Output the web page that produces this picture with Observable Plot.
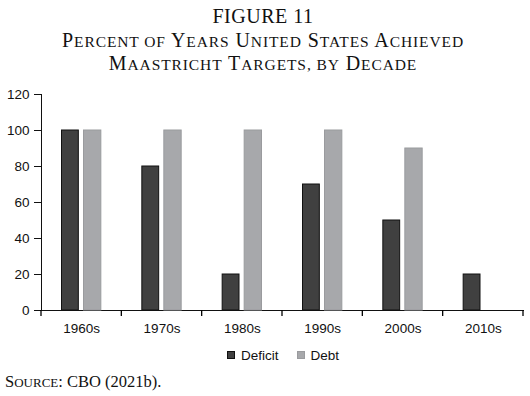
<!DOCTYPE html>
<html>
<head>
<meta charset="utf-8">
<script src="https://cdn.jsdelivr.net/npm/d3@7"></script>
<script src="https://cdn.jsdelivr.net/npm/@observablehq/plot@0.6"></script>
<style>
  html, body { margin: 0; padding: 0; background: #fff; }
  #wrap { position: relative; width: 530px; height: 396px; overflow: hidden; }
  .title { position: absolute; left: 0; width: 526px; text-align: center;
           font-family: "Liberation Serif", "Times New Roman", serif; font-size: 20px;
           color: #111; white-space: nowrap; line-height: 1; }
  .sc { letter-spacing: 0.9px; }
  .sm { font-size: 15.5px; text-transform: uppercase; }
  #chart { position: absolute; left: 0; top: 80px; }
  #legend { position: absolute; top: 347px; left: 227px; height: 16px;
            display: flex; align-items: center; gap: 18px;
            font-family: "Liberation Sans", Arial, sans-serif; font-size: 13.5px; color: #111; }
  #legend span.sw { display: inline-block; width: 8px; height: 8px; margin-right: 6px; box-sizing: border-box; }
  #legend .item { display: flex; align-items: center; }
  #source { position: absolute; left: 5px; top: 372px; font-family: "Liberation Serif", "Times New Roman", serif;
            font-size: 16.5px; color: #111; white-space: nowrap; }
  #source .sm { font-size: 13px; }
</style>
</head>
<body>
<div id="wrap">
  <div class="title" style="top:6px; letter-spacing:0.5px;">FIGURE 11</div>
  <div class="title sc" style="top:30px;">P<span class="sm">ercent of</span> Y<span class="sm">ears</span> U<span class="sm">nited</span> S<span class="sm">tates</span> A<span class="sm">chieved</span></div>
  <div class="title sc" style="top:53px;">M<span class="sm">aastricht</span> T<span class="sm">argets, by</span> D<span class="sm">ecade</span></div>
  <div id="chart"></div>
  <div id="legend"></div>
  <div id="source">S<span class="sm">ource</span>: CBO (2021b).</div>
</div>
<script>
const decades = ["1960s", "1970s", "1980s", "1990s", "2000s", "2010s"];
const deficit = [100, 80, 20, 70, 50, 20];
const debt = [100, 100, 100, 100, 90, null];
const yTicks = [0, 20, 40, 60, 80, 100, 120];
const seriesNames = ["Deficit", "Debt"];
const seriesFill = ["#404040", "#a7a8ab"];
const seriesStroke = ["#111111", "#9a9b9e"];

const deficitData = decades.map((d, i) => ({decade: d, value: deficit[i]})).filter(d => d.value != null);
const debtData = decades.map((d, i) => ({decade: d, value: debt[i]})).filter(d => d.value != null);

const bandTicks = (index, scales, values, dimensions) => {
  const x = scales.x;
  const bw = x.bandwidth ? x.bandwidth() : 0;
  const y0 = dimensions.height - dimensions.marginBottom;
  const xs = decades.map(d => x(d)).concat([x(decades[decades.length - 1]) + bw]);
  const g = d3.create("svg:g");
  g.selectAll("line").data(xs).join("line")
    .attr("x1", d => d).attr("x2", d => d)
    .attr("y1", y0).attr("y2", y0 + 6)
    .attr("stroke", "#000").attr("stroke-width", 1.3);
  return g.node();
};

const chart = Plot.plot({
  width: 530,
  height: 265,
  marginTop: 14,
  marginBottom: 35,
  marginLeft: 41,
  marginRight: 7,
  style: {fontFamily: "'Liberation Sans', Arial, sans-serif", fontSize: "13.5px", color: "#111", background: "white"},
  x: {domain: decades, padding: 0, round: false, line: true, tickSize: 0, tickPadding: 13, label: null},
  y: {domain: [0, 120], ticks: yTicks, tickSize: 7, tickPadding: 5, line: true, label: null},
  marks: [
    Plot.barY(deficitData, {x: "decade", y: "value", fill: seriesFill[0], stroke: seriesStroke[0], strokeWidth: 1, insetLeft: 20.5, insetRight: 43}),
    Plot.barY(debtData, {x: "decade", y: "value", fill: seriesFill[1], stroke: seriesStroke[1], strokeWidth: 1, insetLeft: 42.5, insetRight: 20.5}),
    bandTicks
  ]
});
document.getElementById("chart").appendChild(chart);

const legend = d3.select("#legend");
seriesNames.forEach((name, i) => {
  const item = legend.append("div").attr("class", "item");
  item.append("span").attr("class", "sw").style("background", seriesFill[i]).style("border", `1px solid ${seriesStroke[i]}`);
  item.append("span").text(name);
});
</script>
</body>
</html>
